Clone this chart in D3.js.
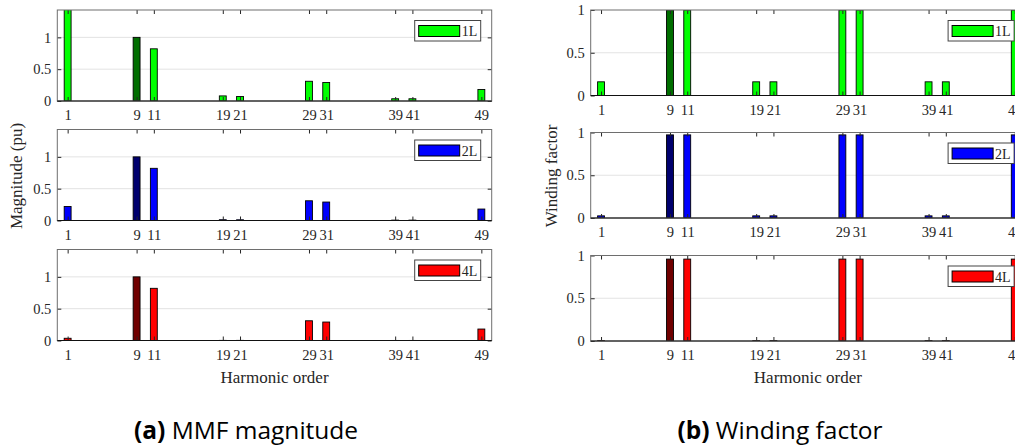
<!DOCTYPE html>
<html>
<head>
<meta charset="utf-8">
<script src="https://cdn.jsdelivr.net/npm/d3@7"></script>
<style>
  body { margin: 0; background: #fff; }
  svg text { font-family: "Liberation Serif", "Times New Roman", serif; fill: #262626; }
  .caption text, text.caption { font-family: "Open Sans", "Noto Sans", sans-serif; fill: #000; }
</style>
</head>
<body>
<div id="chart"></div>
<script>
// harmonic orders shown on the x axis (only these carry a value)
const harmonics = [1, 9, 11, 19, 21, 29, 31, 39, 41, 49];
const workingHarmonic = 9;
const layerNames = ['1L', '2L', '4L'];

// (a) MMF magnitude, per unit of the working harmonic
const mmf1L = [1.5, 1.0, 0.82, 0.08, 0.07, 0.31, 0.29, 0.035, 0.035, 0.18];
const mmf2L = [0.22, 1.0, 0.82, 0.012, 0.011, 0.31, 0.29, 0.006, 0.006, 0.18];
const mmf4L = [0.035, 1.0, 0.82, 0.002, 0.002, 0.31, 0.29, 0.001, 0.001, 0.18];

// (b) winding factor
const kw1L = [0.16, 1.0, 1.0, 0.16, 0.16, 1.0, 1.0, 0.16, 0.16, 1.0];
const kw2L = [0.025, 0.972, 0.972, 0.025, 0.025, 0.972, 0.972, 0.025, 0.025, 0.972];
const kw4L = [0.004, 0.958, 0.958, 0.004, 0.004, 0.958, 0.958, 0.004, 0.004, 0.958];

const mmfTicks = [0, 0.5, 1];
const kwTicks = [0, 0.5, 1];

const fills = ['#00ff00', '#0000ff', '#ff0000'];
const darkFills = ['#006e00', '#00006e', '#700000'];

//  layout of the two columns of stacked panels
const W = 1015, H = 448;
const colA = {left: 57.3, width: 434.4, tops: [10, 129.5, 249.5], height: 91, yMax: 1.43, ticks: mmfTicks};
const colB = {left: 590.7, width: 434.4, tops: [10, 132.5, 255.5], height: 85.5, yMax: 1, ticks: kwTicks};

const svg = d3.select('#chart').append('svg')
  .attr('width', W)
  .attr('height', H);

let clipId = 0;

function drawPanel(col, i, values) {
  const top = col.tops[i];
  const x = d3.scaleLinear().domain([-0.2, 50.2]).range([col.left, col.left + col.width]);
  const y = d3.scaleLinear().domain([0, col.yMax]).range([top + col.height, top]);
  const g = svg.append('g');

  const id = 'clip' + (clipId++);
  g.append('clipPath').attr('id', id)
    .append('rect')
    .attr('x', col.left).attr('y', top)
    .attr('width', col.width).attr('height', col.height);

  // grid lines
  g.append('g').selectAll('line')
    .data(col.ticks.filter(t => t > 0 && t < col.yMax))
    .enter().append('line')
    .attr('x1', col.left).attr('x2', col.left + col.width)
    .attr('y1', d => y(d)).attr('y2', d => y(d))
    .attr('stroke', '#e3e3e3')
    .attr('stroke-width', 1);

  const bw = x(0.8) - x(0);
  g.append('g').attr('clip-path', `url(#${id})`)
    .selectAll('rect')
    .data(harmonics.map((h, k) => ({h, v: values[k]})))
    .enter().append('rect')
    .attr('x', d => x(d.h) - bw / 2)
    .attr('width', bw)
    .attr('y', d => y(d.v))
    .attr('height', d => y(0) - y(d.v))
    .attr('fill', d => d.h === workingHarmonic ? darkFills[i] : fills[i])
    .attr('stroke', '#000')
    .attr('stroke-width', 0.9);

  // axes, ticks pointing inwards
  const axB = g.append('g').attr('transform', `translate(0,${top + col.height})`)
    .call(d3.axisBottom(x).tickValues(harmonics).tickSize(-4).tickPadding(9).tickFormat(d => String(d)));
  const axT = g.append('g').attr('transform', `translate(0,${top})`)
    .call(d3.axisTop(x).tickValues(harmonics).tickSize(-4).tickFormat(''));
  const axL = g.append('g').attr('transform', `translate(${col.left},0)`)
    .call(d3.axisLeft(y).tickValues(col.ticks).tickSize(-4).tickPadding(6).tickFormat(d => String(d)));
  const axR = g.append('g').attr('transform', `translate(${col.left + col.width},0)`)
    .call(d3.axisRight(y).tickValues(col.ticks).tickSize(-4).tickFormat(''));

  [axB, axT, axL, axR].forEach(a => {
    a.select('.domain').remove();
    a.selectAll('line').attr('stroke', '#262626');
    a.selectAll('text')
      .style('font-family', '"Liberation Serif", serif')
      .style('font-size', '14.5px')
      .attr('fill', '#262626');
  });

  // box
  g.append('rect')
    .attr('x', col.left).attr('y', top)
    .attr('width', col.width).attr('height', col.height)
    .attr('fill', 'none')
    .attr('stroke', '#6e6e6e')
    .attr('stroke-width', 1);

  // baseline of the bars
  g.append('line')
    .attr('x1', col.left).attr('x2', col.left + col.width)
    .attr('y1', y(0)).attr('y2', y(0))
    .attr('stroke', '#111')
    .attr('stroke-width', 1.2);

  // legend
  const lx = col.left + col.width - 77, ly = top + 10.5;
  const leg = g.append('g').attr('transform', `translate(${lx},${ly})`);
  leg.append('rect')
    .attr('width', 66).attr('height', 20.5)
    .attr('fill', '#fff')
    .attr('stroke', '#444')
    .attr('stroke-width', 1);
  leg.append('rect')
    .attr('x', 4).attr('y', 5)
    .attr('width', 41).attr('height', 11)
    .attr('fill', fills[i])
    .attr('stroke', '#000')
    .attr('stroke-width', 1);
  leg.append('text')
    .attr('x', 47).attr('y', 15.5)
    .style('font-size', '14px')
    .text(layerNames[i]);

  return x;
}

[mmf1L, mmf2L, mmf4L].forEach((vals, i) => drawPanel(colA, i, vals));
[kw1L, kw2L, kw4L].forEach((vals, i) => drawPanel(colB, i, vals));

// axis titles
svg.append('text')
  .attr('transform', `translate(16,176) rotate(-90)`)
  .attr('text-anchor', 'middle')
  .attr('dy', '0.35em')
  .style('font-size', '17px')
  .text('Magnitude (pu)');

svg.append('text')
  .attr('transform', `translate(551,176) rotate(-90)`)
  .attr('text-anchor', 'middle')
  .attr('dy', '0.35em')
  .style('font-size', '17px')
  .text('Winding factor');

[colA, colB].forEach(col => {
  svg.append('text')
    .attr('x', col.left + col.width / 2)
    .attr('y', 383)
    .attr('text-anchor', 'middle')
    .style('font-size', '17px')
    .text('Harmonic order');
});

// sub-figure captions
const captions = [
  {x: 246, tag: '(a)', text: ' MMF magnitude'},
  {x: 780, tag: '(b)', text: ' Winding factor'}
];
captions.forEach(c => {
  const t = svg.append('text')
    .attr('class', 'caption')
    .attr('x', c.x)
    .attr('y', 439)
    .attr('text-anchor', 'middle')
    .style('font-size', '24.5px');
  t.append('tspan').style('font-weight', 'bold').text(c.tag);
  t.append('tspan').text(c.text);
});
</script>
</body>
</html>
